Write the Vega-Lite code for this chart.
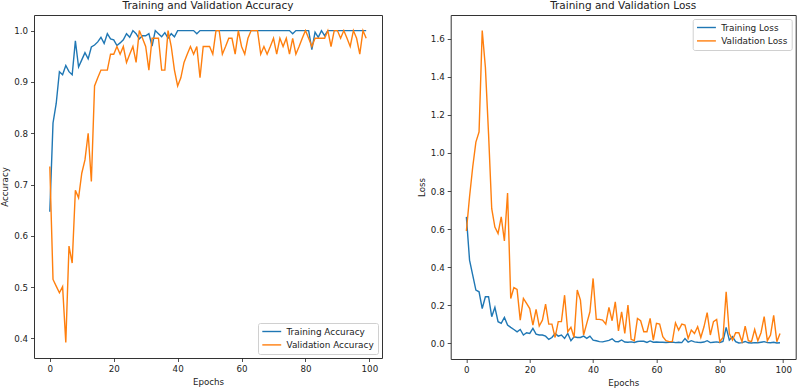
{
  "$schema": "https://vega.github.io/schema/vega-lite/v6.json",
  "background": "white",
  "padding": {"left": 0, "top": 0, "right": 2, "bottom": 0},
  "data": {
    "values": [
      {"e": 0, "ta": 0.647, "va": 0.735, "tl": 0.664, "vl": 0.59},
      {"e": 1, "ta": 0.82, "va": 0.515, "tl": 0.437, "vl": 0.77},
      {"e": 2, "ta": 0.858, "va": 0.502, "tl": 0.358, "vl": 0.926},
      {"e": 3, "ta": 0.92, "va": 0.489, "tl": 0.28, "vl": 1.057},
      {"e": 4, "ta": 0.914, "va": 0.501, "tl": 0.271, "vl": 1.11},
      {"e": 5, "ta": 0.932, "va": 0.392, "tl": 0.183, "vl": 1.642},
      {"e": 6, "ta": 0.92, "va": 0.58, "tl": 0.245, "vl": 1.45},
      {"e": 7, "ta": 0.914, "va": 0.547, "tl": 0.245, "vl": 1.1},
      {"e": 8, "ta": 0.98, "va": 0.689, "tl": 0.14, "vl": 0.707},
      {"e": 9, "ta": 0.929, "va": 0.674, "tl": 0.189, "vl": 0.611},
      {"e": 10, "ta": 0.943, "va": 0.722, "tl": 0.114, "vl": 0.577},
      {"e": 11, "ta": 0.957, "va": 0.748, "tl": 0.105, "vl": 0.664},
      {"e": 12, "ta": 0.945, "va": 0.8, "tl": 0.136, "vl": 0.538},
      {"e": 13, "ta": 0.968, "va": 0.706, "tl": 0.096, "vl": 0.789},
      {"e": 14, "ta": 0.972, "va": 0.892, "tl": 0.084, "vl": 0.236},
      {"e": 15, "ta": 0.978, "va": 0.908, "tl": 0.073, "vl": 0.293},
      {"e": 16, "ta": 0.987, "va": 0.923, "tl": 0.061, "vl": 0.283},
      {"e": 17, "ta": 0.975, "va": 0.923, "tl": 0.073, "vl": 0.122},
      {"e": 18, "ta": 0.994, "va": 0.923, "tl": 0.044, "vl": 0.236},
      {"e": 19, "ta": 0.984, "va": 0.954, "tl": 0.056, "vl": 0.21},
      {"e": 20, "ta": 0.982, "va": 0.954, "tl": 0.052, "vl": 0.183},
      {"e": 21, "ta": 0.971, "va": 0.969, "tl": 0.079, "vl": 0.096},
      {"e": 22, "ta": 0.976, "va": 0.954, "tl": 0.049, "vl": 0.178},
      {"e": 23, "ta": 0.982, "va": 0.969, "tl": 0.044, "vl": 0.091},
      {"e": 24, "ta": 0.994, "va": 0.938, "tl": 0.044, "vl": 0.122},
      {"e": 25, "ta": 0.987, "va": 0.954, "tl": 0.038, "vl": 0.206},
      {"e": 26, "ta": 1.0, "va": 0.969, "tl": 0.021, "vl": 0.101},
      {"e": 27, "ta": 0.994, "va": 0.938, "tl": 0.031, "vl": 0.101},
      {"e": 28, "ta": 0.984, "va": 1.0, "tl": 0.052, "vl": 0.031},
      {"e": 29, "ta": 0.99, "va": 0.985, "tl": 0.038, "vl": 0.114},
      {"e": 30, "ta": 0.99, "va": 0.969, "tl": 0.044, "vl": 0.114},
      {"e": 31, "ta": 0.994, "va": 0.923, "tl": 0.026, "vl": 0.253},
      {"e": 32, "ta": 0.97, "va": 0.985, "tl": 0.052, "vl": 0.061},
      {"e": 33, "ta": 1.0, "va": 0.985, "tl": 0.014, "vl": 0.084},
      {"e": 34, "ta": 0.994, "va": 0.985, "tl": 0.035, "vl": 0.031},
      {"e": 35, "ta": 0.988, "va": 0.923, "tl": 0.031, "vl": 0.28},
      {"e": 36, "ta": 0.996, "va": 0.923, "tl": 0.031, "vl": 0.227},
      {"e": 37, "ta": 0.985, "va": 1.0, "tl": 0.038, "vl": 0.044},
      {"e": 38, "ta": 0.994, "va": 0.969, "tl": 0.026, "vl": 0.105},
      {"e": 39, "ta": 0.988, "va": 0.923, "tl": 0.038, "vl": 0.166},
      {"e": 40, "ta": 1.0, "va": 0.892, "tl": 0.017, "vl": 0.341},
      {"e": 41, "ta": 1.0, "va": 0.908, "tl": 0.014, "vl": 0.126},
      {"e": 42, "ta": 1.0, "va": 0.938, "tl": 0.009, "vl": 0.126},
      {"e": 43, "ta": 1.0, "va": 0.954, "tl": 0.008, "vl": 0.122},
      {"e": 44, "ta": 1.0, "va": 0.969, "tl": 0.012, "vl": 0.101},
      {"e": 45, "ta": 1.0, "va": 0.954, "tl": 0.016, "vl": 0.189},
      {"e": 46, "ta": 0.994, "va": 0.969, "tl": 0.024, "vl": 0.119},
      {"e": 47, "ta": 1.0, "va": 0.908, "tl": 0.01, "vl": 0.218},
      {"e": 48, "ta": 1.0, "va": 0.969, "tl": 0.009, "vl": 0.066},
      {"e": 49, "ta": 1.0, "va": 0.969, "tl": 0.018, "vl": 0.166},
      {"e": 50, "ta": 1.0, "va": 0.969, "tl": 0.007, "vl": 0.052},
      {"e": 51, "ta": 1.0, "va": 0.954, "tl": 0.006, "vl": 0.201},
      {"e": 52, "ta": 1.0, "va": 1.0, "tl": 0.008, "vl": 0.021},
      {"e": 53, "ta": 1.0, "va": 1.0, "tl": 0.005, "vl": 0.014},
      {"e": 54, "ta": 1.0, "va": 0.954, "tl": 0.01, "vl": 0.131},
      {"e": 55, "ta": 1.0, "va": 0.969, "tl": 0.012, "vl": 0.119},
      {"e": 56, "ta": 1.0, "va": 0.985, "tl": 0.011, "vl": 0.061},
      {"e": 57, "ta": 1.0, "va": 0.985, "tl": 0.005, "vl": 0.061},
      {"e": 58, "ta": 1.0, "va": 0.954, "tl": 0.013, "vl": 0.131},
      {"e": 59, "ta": 1.0, "va": 1.0, "tl": 0.006, "vl": 0.017},
      {"e": 60, "ta": 1.0, "va": 0.969, "tl": 0.007, "vl": 0.105},
      {"e": 61, "ta": 1.0, "va": 0.954, "tl": 0.006, "vl": 0.101},
      {"e": 62, "ta": 1.0, "va": 0.985, "tl": 0.006, "vl": 0.035},
      {"e": 63, "ta": 1.0, "va": 1.0, "tl": 0.005, "vl": 0.014},
      {"e": 64, "ta": 1.0, "va": 1.0, "tl": 0.006, "vl": 0.009},
      {"e": 65, "ta": 1.0, "va": 1.0, "tl": 0.007, "vl": 0.009},
      {"e": 66, "ta": 1.0, "va": 0.954, "tl": 0.004, "vl": 0.108},
      {"e": 67, "ta": 1.0, "va": 0.969, "tl": 0.006, "vl": 0.07},
      {"e": 68, "ta": 1.0, "va": 0.954, "tl": 0.004, "vl": 0.101},
      {"e": 69, "ta": 1.0, "va": 0.969, "tl": 0.025, "vl": 0.096},
      {"e": 70, "ta": 1.0, "va": 0.985, "tl": 0.006, "vl": 0.026},
      {"e": 71, "ta": 1.0, "va": 0.954, "tl": 0.014, "vl": 0.07},
      {"e": 72, "ta": 1.0, "va": 0.985, "tl": 0.008, "vl": 0.052},
      {"e": 73, "ta": 1.0, "va": 0.969, "tl": 0.006, "vl": 0.087},
      {"e": 74, "ta": 1.0, "va": 0.985, "tl": 0.005, "vl": 0.031},
      {"e": 75, "ta": 1.0, "va": 0.954, "tl": 0.007, "vl": 0.087},
      {"e": 76, "ta": 0.994, "va": 0.985, "tl": 0.014, "vl": 0.161},
      {"e": 77, "ta": 1.0, "va": 0.954, "tl": 0.004, "vl": 0.044},
      {"e": 78, "ta": 1.0, "va": 0.969, "tl": 0.006, "vl": 0.114},
      {"e": 79, "ta": 1.0, "va": 0.985, "tl": 0.008, "vl": 0.126},
      {"e": 80, "ta": 1.0, "va": 1.0, "tl": 0.005, "vl": 0.009},
      {"e": 81, "ta": 1.0, "va": 0.985, "tl": 0.01, "vl": 0.031},
      {"e": 82, "ta": 0.963, "va": 0.969, "tl": 0.084, "vl": 0.271},
      {"e": 83, "ta": 0.997, "va": 0.985, "tl": 0.017, "vl": 0.052},
      {"e": 84, "ta": 0.987, "va": 0.985, "tl": 0.035, "vl": 0.017},
      {"e": 85, "ta": 1.0, "va": 0.985, "tl": 0.009, "vl": 0.056},
      {"e": 86, "ta": 0.99, "va": 0.985, "tl": 0.002, "vl": 0.056},
      {"e": 87, "ta": 1.0, "va": 1.0, "tl": 0.004, "vl": 0.009},
      {"e": 88, "ta": 1.0, "va": 0.969, "tl": 0.01, "vl": 0.091},
      {"e": 89, "ta": 1.0, "va": 1.0, "tl": 0.003, "vl": 0.014},
      {"e": 90, "ta": 1.0, "va": 1.0, "tl": 0.002, "vl": 0.009},
      {"e": 91, "ta": 1.0, "va": 0.985, "tl": 0.004, "vl": 0.073},
      {"e": 92, "ta": 1.0, "va": 1.0, "tl": 0.003, "vl": 0.014},
      {"e": 93, "ta": 1.0, "va": 0.985, "tl": 0.006, "vl": 0.056},
      {"e": 94, "ta": 1.0, "va": 0.969, "tl": 0.009, "vl": 0.14},
      {"e": 95, "ta": 1.0, "va": 1.0, "tl": 0.004, "vl": 0.014},
      {"e": 96, "ta": 1.0, "va": 0.985, "tl": 0.003, "vl": 0.044},
      {"e": 97, "ta": 1.0, "va": 0.954, "tl": 0.006, "vl": 0.147},
      {"e": 98, "ta": 1.0, "va": 1.0, "tl": 0.002, "vl": 0.009},
      {"e": 99, "ta": 1.0, "va": 0.985, "tl": 0.003, "vl": 0.052}
    ]
  },
  "hconcat": [
    {
      "width": 348,
      "height": 343,
      "title": {"text": "Training and Validation Accuracy"},
      "transform": [{"fold": ["ta", "va"], "as": ["series", "acc"]}],
      "mark": {"type": "line", "strokeWidth": 1.4},
      "encoding": {
        "x": {
          "field": "e", "type": "quantitative",
          "scale": {"domain": [-4.95, 103.95], "nice": false, "zero": false},
          "axis": {"values": [0, 20, 40, 60, 80, 100], "title": "Epochs"}
        },
        "y": {
          "field": "acc", "type": "quantitative",
          "scale": {"domain": [0.3619, 1.0304], "nice": false, "zero": false},
          "axis": {"values": [0.4, 0.5, 0.6, 0.7, 0.8, 0.9, 1.0], "format": ".1f", "title": "Accuracy"}
        },
        "color": {
          "field": "series", "type": "nominal",
          "scale": {"domain": ["ta", "va"], "range": ["#1f77b4", "#ff7f0e"]},
          "legend": {
            "orient": "bottom-right",
            "title": null,
            "labelExpr": "datum.value == 'ta' ? 'Training Accuracy' : 'Validation Accuracy'"
          }
        }
      }
    },
    {
      "width": 345,
      "height": 344,
      "title": {"text": "Training and Validation Loss"},
      "transform": [{"fold": ["tl", "vl"], "as": ["series", "loss"]}],
      "mark": {"type": "line", "strokeWidth": 1.4},
      "encoding": {
        "x": {
          "field": "e", "type": "quantitative",
          "scale": {"domain": [-4.95, 103.95], "nice": false, "zero": false},
          "axis": {"values": [0, 20, 40, 60, 80, 100], "title": "Epochs"}
        },
        "y": {
          "field": "loss", "type": "quantitative",
          "scale": {"domain": [-0.082, 1.724], "nice": false, "zero": false},
          "axis": {"values": [0, 0.2, 0.4, 0.6, 0.8, 1.0, 1.2, 1.4, 1.6], "format": ".1f", "title": "Loss"}
        },
        "color": {
          "field": "series", "type": "nominal",
          "scale": {"domain": ["tl", "vl"], "range": ["#1f77b4", "#ff7f0e"]},
          "legend": {
            "orient": "top-right",
            "title": null,
            "labelExpr": "datum.value == 'tl' ? 'Training Loss' : 'Validation Loss'"
          }
        }
      }
    }
  ],
  "spacing": 68.7,
  "bounds": "flush",
  "resolve": {"scale": {"color": "independent"}, "legend": {"color": "independent"}},
  "config": {
    "font": "DejaVu Sans",
    "view": {"stroke": "#333333", "strokeWidth": 1},
    "axis": {
      "domain": false,
      "grid": false,
      "ticks": true,
      "tickColor": "#222222",
      "tickSize": 3.5,
      "tickWidth": 0.8,
      "labelFont": "DejaVu Sans",
      "labelFontSize": 8.7,
      "labelColor": "#222222",
      "labelPadding": 3,
      "titleFont": "DejaVu Sans",
      "titleFontSize": 8.7,
      "titleFontWeight": "normal",
      "titleColor": "#222222",
      "titlePadding": 4
    },
    "title": {"font": "DejaVu Sans", "fontSize": 10.5, "fontWeight": "normal", "color": "#222222", "offset": 4},
    "legend": {
      "symbolType": "M-1.2,0H4.2",
      "symbolStrokeWidth": 1.4,
      "symbolSize": 49,
      "labelFont": "DejaVu Sans",
      "labelFontSize": 8.9,
      "labelColor": "#222222",
      "labelOffset": 15.5,
      "padding": 4,
      "offset": 4,
      "rowPadding": 3.4,
      "fillColor": "rgba(255,255,255,0.8)",
      "strokeColor": "#d0d0d0",
      "cornerRadius": 2
    }
  }
}
